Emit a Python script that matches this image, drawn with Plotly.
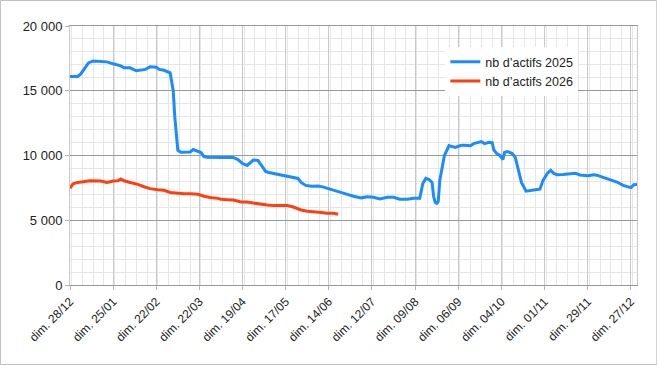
import plotly.graph_objects as go

dates_2025 = [
    "2024-12-28", "2025-01-02", "2025-01-04", "2025-01-07", "2025-01-09", "2025-01-12",
    "2025-01-16", "2025-01-18", "2025-01-21", "2025-01-25", "2025-01-30", "2025-02-01",
    "2025-02-05", "2025-02-09", "2025-02-12", "2025-02-15", "2025-02-18", "2025-02-22",
    "2025-02-24", "2025-02-27", "2025-03-03", "2025-03-05", "2025-03-06", "2025-03-07",
    "2025-03-08", "2025-03-10", "2025-03-13", "2025-03-16", "2025-03-18", "2025-03-21",
    "2025-03-23", "2025-03-25", "2025-03-27", "2025-04-08", "2025-04-13", "2025-04-16",
    "2025-04-19", "2025-04-22", "2025-04-24", "2025-04-26", "2025-04-29", "2025-05-02",
    "2025-05-04", "2025-05-06", "2025-05-09", "2025-05-14", "2025-05-17", "2025-05-21",
    "2025-05-25", "2025-05-27", "2025-05-30", "2025-06-03", "2025-06-07", "2025-06-10",
    "2025-06-13", "2025-06-17", "2025-06-22", "2025-06-26", "2025-06-30", "2025-07-05",
    "2025-07-09", "2025-07-13", "2025-07-17", "2025-07-22", "2025-07-26", "2025-07-30",
    "2025-08-04", "2025-08-08", "2025-08-12", "2025-08-14", "2025-08-16", "2025-08-18",
    "2025-08-20", "2025-08-21", "2025-08-22", "2025-08-23", "2025-08-24", "2025-08-25",
    "2025-08-28", "2025-08-31", "2025-09-02", "2025-09-04", "2025-09-07", "2025-09-09",
    "2025-09-12", "2025-09-14", "2025-09-16", "2025-09-18", "2025-09-21", "2025-09-23",
    "2025-09-26", "2025-09-28", "2025-09-29", "2025-10-01", "2025-10-03", "2025-10-05",
    "2025-10-06", "2025-10-08", "2025-10-11", "2025-10-13", "2025-10-15", "2025-10-17",
    "2025-10-20", "2025-10-23", "2025-10-26", "2025-10-29", "2025-10-31", "2025-11-03",
    "2025-11-05", "2025-11-07", "2025-11-09", "2025-11-13", "2025-11-18", "2025-11-21",
    "2025-11-24", "2025-11-29", "2025-12-03", "2025-12-05", "2025-12-09", "2025-12-14",
    "2025-12-18", "2025-12-22", "2025-12-27", "2025-12-29", "2025-12-31",
]
actifs_2025 = [
    16100, 16100, 16300, 16850, 17150, 17300,
    17270, 17200, 17230, 17080, 16920, 16770,
    16770, 16540, 16620, 16650, 16850, 16810,
    16650, 16580, 16380, 15000, 13000, 11500,
    10400, 10250, 10270, 10270, 10460, 10350,
    10230, 9920, 9870, 9850, 9850, 9690,
    9380, 9230, 9460, 9650, 9620, 9080,
    8770, 8690, 8620, 8500, 8380, 8310,
    8230, 7920, 7690, 7620, 7650, 7580,
    7460, 7310, 7150, 7000, 6850, 6730,
    6810, 6770, 6650, 6770, 6770, 6620,
    6620, 6690, 6690, 7850, 8230, 8150,
    7920, 6850, 6380, 6310, 6460, 8080,
    10000, 10770, 10690, 10620, 10750, 10800,
    10780, 10750, 10920, 10980, 11080, 10920,
    11020, 11000, 10460, 10150, 10000, 9690,
    10230, 10310, 10150, 9850, 8850, 7920,
    7250, 7330, 7360, 7400, 8080, 8650,
    8850, 8620, 8520, 8540, 8580, 8620,
    8500, 8440, 8520, 8480, 8310, 8120,
    7950, 7690, 7520, 7750, 7770,
]

dates_2026 = [
    "2024-12-28", "2024-12-30", "2025-01-02", "2025-01-06", "2025-01-10", "2025-01-17",
    "2025-01-21", "2025-01-25", "2025-01-28", "2025-01-30", "2025-02-01", "2025-02-05",
    "2025-02-10", "2025-02-14", "2025-02-18", "2025-02-23", "2025-02-27", "2025-03-03",
    "2025-03-08", "2025-03-12", "2025-03-16", "2025-03-21", "2025-03-25", "2025-03-29",
    "2025-04-03", "2025-04-05", "2025-04-09", "2025-04-13", "2025-04-18", "2025-04-22",
    "2025-04-26", "2025-05-01", "2025-05-05", "2025-05-09", "2025-05-14", "2025-05-18",
    "2025-05-22", "2025-05-27", "2025-05-31", "2025-06-04", "2025-06-09", "2025-06-13",
    "2025-06-17", "2025-06-20",
]
actifs_2026 = [
    7490, 7810, 7920, 8000, 8050, 8030,
    7920, 8030, 8050, 8180, 8050, 7920,
    7770, 7590, 7440, 7360, 7310, 7150,
    7080, 7050, 7050, 7000, 6850, 6750,
    6690, 6620, 6590, 6560, 6410, 6410,
    6330, 6230, 6180, 6130, 6130, 6130,
    6020, 5790, 5690, 5620, 5590, 5540,
    5540, 5460,
]

series_names = ["nb d’actifs 2025", "nb d’actifs 2026"]
y_ticks = [0, 5000, 10000, 15000, 20000]

fig = go.Figure()
fig.add_trace(go.Scatter(x=dates_2025, y=actifs_2025, mode="lines", name=series_names[0],
                         line=dict(color="#1a8cff", width=3)))
fig.add_trace(go.Scatter(x=dates_2026, y=actifs_2026, mode="lines", name=series_names[1],
                         line=dict(color="#ff3f0f", width=3)))

fig.update_layout(
    width=657, height=365,
    margin=dict(l=70, r=20, t=26, b=80),
    paper_bgcolor="white", plot_bgcolor="white",
    separators=", ",
    font=dict(family="Liberation Sans, Arial, sans-serif", size=12, color="#222222"),
    showlegend=True,
    legend=dict(x=0.662, y=0.918, xanchor="left", yanchor="top",
                bgcolor="white", borderwidth=0, font=dict(size=12.5, color="#222222"),
                itemwidth=30, tracegroupgap=0),
    shapes=[dict(type="rect", xref="paper", yref="paper",
                 x0=-69.5 / 566.7, x1=(656.5 - 70) / 566.7,
                 y0=-79.5 / 259, y1=(285 - 0.5) / 259,
                 line=dict(color="#c0c0c0", width=1), fillcolor="rgba(0,0,0,0)", layer="below")],
)

fig.update_xaxes(
    type="date",
    range=["2024-12-28", "2025-12-31"],
    tick0="2024-12-28", dtick=28 * 86400000,
    tickformat="dim. %d/%m", tickangle=-45,
    ticks="outside", ticklen=4, tickcolor="#b3b3b3",
    showgrid=True, gridcolor="#c8c8c8", gridwidth=1,
    minor=dict(dtick=7 * 86400000, showgrid=True, gridcolor="#e6e6e6", gridwidth=1),
    showline=True, mirror=True, linecolor="#999999", linewidth=1,
    zeroline=False,
    tickfont=dict(size=12, color="#222222"),
)
fig.update_yaxes(
    range=[0, 20000],
    tickvals=y_ticks, tickformat=",d",
    ticks="outside", ticklen=4, tickcolor="#b3b3b3",
    showgrid=True, gridcolor="#999999", gridwidth=1,
    minor=dict(dtick=1000, showgrid=True, gridcolor="#e6e6e6", gridwidth=1),
    showline=True, mirror=True, linecolor="#c8c8c8", linewidth=1,
    zeroline=False,
    tickfont=dict(size=13, color="#222222"),
)

fig.write_html("out.html")
